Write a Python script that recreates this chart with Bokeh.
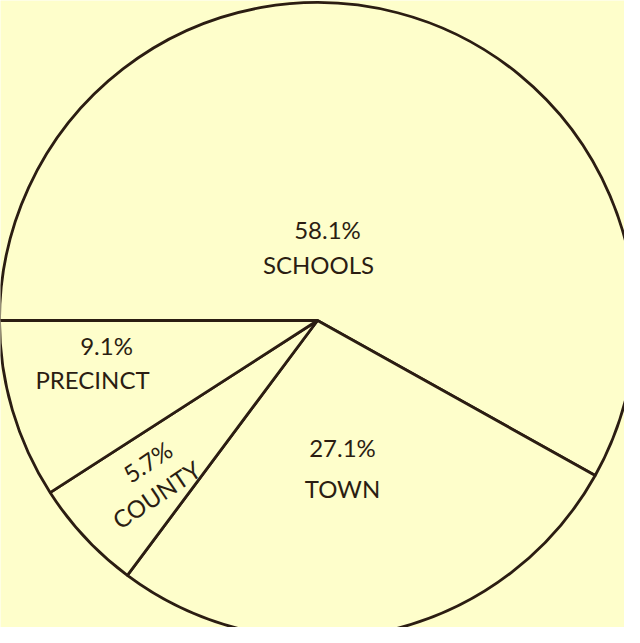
import math
from bokeh.plotting import figure
from bokeh.models import Range1d, ColumnDataSource
from bokeh.core.properties import value
from bokeh.embed import file_html
from bokeh.resources import INLINE

categories = ["SCHOOLS", "TOWN", "COUNTY", "PRECINCT"]
percents = [58.1, 27.1, 5.7, 9.1]
pct_labels = ["58.1%", "27.1%", "5.7%", "9.1%"]

BG = "#FEFECB"
INK = "#2B1D12"
FONT = value("Lato")

# layout (screen pixels, y measured from the top of the window)
cx, cy_px, R = 325, 328, 318
W, H = 624, 627

def Y(py):
    return 643 - py

total = sum(percents)
starts, ends = [], []
acc = 0.0
for v in percents:
    starts.append(math.pi - 2 * math.pi * acc / total)
    acc += v
    ends.append(math.pi - 2 * math.pi * acc / total)

p = figure(width=W, height=H, output_backend="svg", toolbar_location=None,
           x_range=Range1d(8, 8 + W), y_range=Range1d(Y(8 + H), Y(8)),
           min_border=0, background_fill_color=BG, border_fill_color=BG)
p.axis.visible = False
p.grid.visible = False
p.outline_line_color = None

src = ColumnDataSource(dict(x=[cx] * len(percents), y=[Y(cy_px)] * len(percents),
                            start=starts, end=ends, cat=categories))
p.wedge(x="x", y="y", radius=R, start_angle="start", end_angle="end",
        direction="clock", source=src, fill_color=BG, line_color=INK,
        line_width=2.8)

# label placement (screen px): pct label pos, category label pos, rotation (deg)
pct_pos = [(335, 237), (350, 455), (155, 469), (114, 353)]
cat_pos = [(326, 272), (350, 496), (164, 502), (100, 387)]
rots = [0, 0, 34, 0]

lx, ly, lt, la = [], [], [], []
for i in range(len(categories)):
    lx += [pct_pos[i][0], cat_pos[i][0]]
    ly += [Y(pct_pos[i][1]), Y(cat_pos[i][1])]
    lt += [pct_labels[i], categories[i]]
    la += [math.radians(rots[i])] * 2

p.text(x=lx, y=ly, text=lt, angle=la, text_align="center",
       text_baseline="middle", text_font=FONT, text_font_size="24px",
       text_color=INK)

html = file_html(p, INLINE)
html = html.replace("<body>", '<body style="background:%s">' % BG, 1)
open("out.html", "w").write(html)
